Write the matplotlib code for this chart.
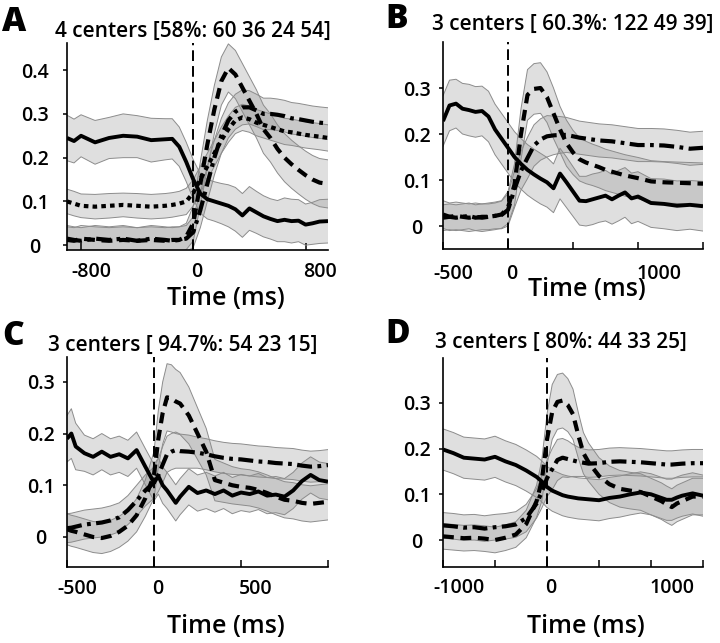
import matplotlib
matplotlib.use("Agg")
import matplotlib.pyplot as plt
import matplotlib.transforms as mtransforms
import numpy as np

plt.rcParams['font.family'] = ['Open Sans', 'DejaVu Sans']

# ---------------- panel A ----------------
tA = [-900, -850, -800, -700, -600, -500, -400, -300, -200, -150, -100, -50, 0, 50, 100, 150,
      200, 250, 300, 350, 400, 450, 500, 550, 600, 650, 700, 750, 800, 850, 900, 960]
a_solid = [0.245, 0.238, 0.25, 0.235, 0.245, 0.25, 0.248, 0.24, 0.242, 0.243, 0.225, 0.19, 0.15, 0.118,
           0.105, 0.1, 0.095, 0.09, 0.082, 0.068, 0.084, 0.075, 0.066, 0.06, 0.055, 0.058, 0.055,
           0.056, 0.047, 0.05, 0.054, 0.055]
a_solid_sd = [0.052, 0.05, 0.048, 0.05, 0.047, 0.05, 0.048, 0.05, 0.047, 0.046, 0.045, 0.045, 0.045,
              0.045, 0.045, 0.045, 0.046, 0.048, 0.05, 0.05, 0.05, 0.048, 0.047, 0.046, 0.047, 0.05,
              0.05, 0.048, 0.047, 0.048, 0.05, 0.05]
a_dash = [0.012, 0.01, 0.015, 0.012, 0.01, 0.012, 0.01, 0.012, 0.01, 0.012, 0.012, 0.02, 0.05, 0.14,
          0.23, 0.31, 0.375, 0.405, 0.39, 0.36, 0.33, 0.3, 0.265, 0.245, 0.22, 0.2, 0.185, 0.172,
          0.16, 0.15, 0.143, 0.14]
a_dash_sd = [0.03, 0.03, 0.03, 0.03, 0.03, 0.03, 0.03, 0.03, 0.03, 0.03, 0.03, 0.03, 0.04, 0.05,
             0.055, 0.055, 0.055, 0.055, 0.055, 0.055, 0.055, 0.055, 0.055, 0.055, 0.055, 0.055,
             0.055, 0.055, 0.055, 0.055, 0.055, 0.055]
a_dot = [0.1, 0.095, 0.09, 0.088, 0.09, 0.092, 0.09, 0.088, 0.09, 0.092, 0.095, 0.1, 0.12, 0.15,
         0.18, 0.21, 0.24, 0.265, 0.285, 0.292, 0.288, 0.28, 0.275, 0.27, 0.265, 0.26, 0.258,
         0.255, 0.252, 0.25, 0.248, 0.245]
a_dot_sd = [0.028, 0.028, 0.027, 0.028, 0.028, 0.027, 0.028, 0.028, 0.028, 0.028, 0.028, 0.03,
            0.03, 0.03, 0.03, 0.03, 0.03, 0.03, 0.03, 0.03, 0.03, 0.03, 0.03, 0.03, 0.03, 0.03,
            0.03, 0.03, 0.03, 0.03, 0.03, 0.03]
a_dashdot = [0.015, 0.012, 0.01, 0.015, 0.012, 0.015, 0.01, 0.015, 0.012, 0.01, 0.012, 0.015, 0.03,
             0.08, 0.14, 0.2, 0.25, 0.285, 0.305, 0.315, 0.315, 0.308, 0.3, 0.3, 0.298, 0.295,
             0.29, 0.288, 0.285, 0.282, 0.28, 0.278]
a_dashdot_sd = [0.03, 0.03, 0.03, 0.03, 0.03, 0.03, 0.03, 0.03, 0.03, 0.03, 0.03, 0.03, 0.035,
                0.04, 0.04, 0.04, 0.04, 0.04, 0.04, 0.04, 0.038, 0.037, 0.036, 0.036, 0.036,
                0.036, 0.036, 0.036, 0.036, 0.036, 0.036, 0.036]

# ---------------- panel B ----------------
tB = [-500, -450, -400, -350, -300, -250, -200, -150, -100, -50, 0, 50, 100, 150, 200, 250, 300,
      350, 400, 450, 500, 550, 600, 650, 700, 750, 800, 850, 900, 950, 1000, 1100, 1200, 1300,
      1400, 1500]
b_solid = [0.228, 0.262, 0.266, 0.255, 0.252, 0.248, 0.25, 0.238, 0.21, 0.19, 0.17, 0.15, 0.135,
           0.122, 0.112, 0.103, 0.095, 0.082, 0.114, 0.095, 0.075, 0.055, 0.054, 0.058, 0.062,
           0.066, 0.058, 0.066, 0.073, 0.06, 0.064, 0.05, 0.048, 0.044, 0.046, 0.043]
b_solid_sd = [0.055, 0.055, 0.053, 0.055, 0.056, 0.055, 0.054, 0.055, 0.055, 0.055, 0.055, 0.055,
              0.055, 0.055, 0.055, 0.055, 0.054, 0.053, 0.055, 0.055, 0.054, 0.053, 0.054, 0.055,
              0.054, 0.055, 0.054, 0.055, 0.054, 0.055, 0.054, 0.053, 0.054, 0.054, 0.053, 0.054]
b_dash = [0.025, 0.02, 0.022, 0.02, 0.018, 0.02, 0.018, 0.02, 0.022, 0.025, 0.04, 0.09, 0.2, 0.285,
          0.298, 0.3, 0.28, 0.245, 0.21, 0.18, 0.16, 0.145, 0.138, 0.133, 0.128, 0.122, 0.118,
          0.114, 0.11, 0.107, 0.104, 0.097, 0.095, 0.094, 0.093, 0.092]
b_dash_sd = [0.03, 0.03, 0.03, 0.03, 0.03, 0.03, 0.03, 0.03, 0.03, 0.03, 0.035, 0.045, 0.055,
             0.055, 0.055, 0.055, 0.055, 0.055, 0.05, 0.05, 0.048, 0.047, 0.046, 0.045, 0.045,
             0.045, 0.045, 0.045, 0.045, 0.045, 0.045, 0.045, 0.045, 0.045, 0.045, 0.045]
b_dashdot = [0.018, 0.02, 0.018, 0.02, 0.022, 0.018, 0.02, 0.02, 0.022, 0.024, 0.035, 0.08, 0.12,
             0.148, 0.175, 0.188, 0.195, 0.197, 0.198, 0.198, 0.195, 0.192, 0.19, 0.188, 0.186,
             0.185, 0.184, 0.182, 0.18, 0.178, 0.176, 0.176, 0.175, 0.172, 0.168, 0.17]
b_dashdot_sd = [0.028, 0.028, 0.028, 0.028, 0.028, 0.028, 0.028, 0.028, 0.028, 0.03, 0.035, 0.04,
                0.042, 0.045, 0.045, 0.045, 0.045, 0.042, 0.04, 0.038, 0.037, 0.036, 0.036,
                0.036, 0.036, 0.036, 0.036, 0.036, 0.036, 0.036, 0.036, 0.036, 0.036, 0.036,
                0.036, 0.036]

# ---------------- panel C ----------------
tC = [-500, -475, -450, -400, -350, -300, -250, -200, -150, -100, -50, 0, 25, 50, 75, 100, 125,
      150, 200, 250, 300, 350, 400, 450, 500, 550, 600, 650, 700, 750, 800, 850, 900, 950, 1000]
c_solid = [0.19, 0.2, 0.175, 0.162, 0.155, 0.165, 0.155, 0.16, 0.152, 0.168, 0.136, 0.105, 0.118,
           0.1, 0.09, 0.078, 0.066, 0.078, 0.097, 0.085, 0.09, 0.083, 0.09, 0.08, 0.086, 0.083,
           0.088, 0.08, 0.082, 0.078, 0.09, 0.108, 0.12, 0.11, 0.107]
c_solid_sd = [0.045, 0.048, 0.045, 0.035, 0.035, 0.035, 0.035, 0.035, 0.035, 0.035, 0.035, 0.035,
              0.035, 0.035, 0.035, 0.035, 0.035, 0.035, 0.035, 0.035, 0.035, 0.035, 0.035, 0.035,
              0.035, 0.035, 0.035, 0.035, 0.035, 0.035, 0.035, 0.035, 0.035, 0.035, 0.035]
c_dash = [0.015, 0.012, 0.01, 0.005, 0.0, -0.002, 0.002, 0.01, 0.022, 0.042, 0.075, 0.12, 0.19,
          0.24, 0.27, 0.268, 0.262, 0.258, 0.235, 0.2, 0.165, 0.11, 0.105, 0.1, 0.097, 0.095,
          0.091, 0.085, 0.078, 0.072, 0.07, 0.066, 0.064, 0.066, 0.068]
c_dash_sd = [0.03, 0.03, 0.03, 0.03, 0.03, 0.03, 0.03, 0.03, 0.03, 0.032, 0.035, 0.045, 0.055,
             0.06, 0.065, 0.065, 0.062, 0.06, 0.055, 0.05, 0.045, 0.04, 0.038, 0.036, 0.035,
             0.035, 0.035, 0.035, 0.035, 0.035, 0.035, 0.035, 0.035, 0.035, 0.035]
c_dashdot = [0.017, 0.018, 0.02, 0.024, 0.026, 0.028, 0.032, 0.038, 0.052, 0.07, 0.09, 0.105, 0.12,
             0.14, 0.16, 0.165, 0.168, 0.166, 0.165, 0.163, 0.16, 0.156, 0.153, 0.151, 0.15,
             0.148, 0.146, 0.145, 0.143, 0.142, 0.141, 0.138, 0.136, 0.137, 0.139]
c_dashdot_sd = [0.028, 0.028, 0.028, 0.028, 0.028, 0.028, 0.028, 0.028, 0.028, 0.03, 0.03, 0.03,
                0.032, 0.035, 0.035, 0.035, 0.035, 0.033, 0.032, 0.03, 0.03, 0.03, 0.03, 0.03,
                0.03, 0.03, 0.03, 0.03, 0.03, 0.03, 0.03, 0.03, 0.03, 0.03, 0.03]

# ---------------- panel D ----------------
tD = [-1000, -900, -800, -700, -600, -500, -400, -300, -200, -100, -50, 0, 50, 100, 150, 200, 250,
      300, 350, 400, 500, 600, 700, 800, 900, 1000, 1100, 1150, 1200, 1250, 1300, 1400, 1500]
d_solid = [0.198, 0.19, 0.18, 0.178, 0.176, 0.182, 0.172, 0.164, 0.152, 0.138, 0.128, 0.116,
           0.108, 0.103, 0.098, 0.095, 0.093, 0.091, 0.09, 0.089, 0.087, 0.092, 0.095, 0.1, 0.104,
           0.1, 0.092, 0.088, 0.088, 0.093, 0.097, 0.102, 0.097]
d_solid_sd = [0.045, 0.045, 0.045, 0.045, 0.045, 0.045, 0.045, 0.045, 0.045, 0.045, 0.045, 0.045,
              0.045, 0.045, 0.045, 0.045, 0.045, 0.045, 0.045, 0.045, 0.045, 0.045, 0.045, 0.045,
              0.045, 0.045, 0.045, 0.045, 0.045, 0.045, 0.045, 0.045, 0.045]
d_dash = [0.008, 0.006, 0.004, 0.005, 0.003, 0.0, 0.005, 0.012, 0.035, 0.085, 0.13, 0.22, 0.28,
          0.302, 0.305, 0.295, 0.275, 0.23, 0.19, 0.17, 0.14, 0.122, 0.112, 0.108, 0.105, 0.095,
          0.085, 0.078, 0.072, 0.08, 0.085, 0.095, 0.095]
d_dash_sd = [0.028, 0.028, 0.028, 0.028, 0.028, 0.028, 0.028, 0.028, 0.03, 0.035, 0.045, 0.055,
             0.06, 0.06, 0.06, 0.058, 0.055, 0.05, 0.045, 0.042, 0.04, 0.04, 0.04, 0.04, 0.04, 0.04,
             0.04, 0.04, 0.04, 0.04, 0.04, 0.04, 0.04]
d_dashdot = [0.032, 0.03, 0.027, 0.028, 0.025, 0.028, 0.03, 0.034, 0.048, 0.08, 0.105, 0.135,
             0.155, 0.175, 0.18, 0.177, 0.174, 0.171, 0.169, 0.167, 0.168, 0.171, 0.172, 0.171,
             0.17, 0.168, 0.166, 0.165, 0.165, 0.166, 0.167, 0.168, 0.168]
d_dashdot_sd = [0.028, 0.028, 0.028, 0.028, 0.028, 0.028, 0.028, 0.028, 0.03, 0.032, 0.035, 0.04,
                0.045, 0.045, 0.042, 0.04, 0.035, 0.032, 0.03, 0.03, 0.03, 0.03, 0.03, 0.03,
                0.03, 0.03, 0.03, 0.03, 0.03, 0.03, 0.03, 0.03, 0.03]

titles = ["4 centers [58%: 60 36 24 54]", "3 centers [ 60.3%: 122 49 39]",
          "3 centers [ 94.7%: 54 23 15]", "3 centers [ 80%: 44 33 25]"]
letters = ["A", "B", "C", "D"]

W, H = 720, 643
fig = plt.figure(figsize=(7.2, 6.43), dpi=100)


def rect(l, t, r, b):
    return [l / W, 1 - b / H, (r - l) / W, (b - t) / H]


def fx(px):
    return px / W


def fy(py):
    return 1 - py / H


STYLES = {
    "solid": dict(linestyle="-", lw=2.8),
    "dash": dict(linestyle=(0, (2.6, 1.6)), lw=3.0),
    "dot": dict(linestyle=(0, (1.1, 1.0)), lw=3.0),
    "dashdot": dict(linestyle=(0, (3.6, 1.3, 0.9, 1.3)), lw=3.0),
}

panels = [
    dict(rect=rect(67, 43, 328, 250), t=tA, xlim=(-900, 960), ylim=(-0.011, 0.462),
         series=[("solid", a_solid, a_solid_sd), ("dot", a_dot, a_dot_sd),
                 ("dashdot", a_dashdot, a_dashdot_sd), ("dash", a_dash, a_dash_sd)],
         xticks=[-800, 0, 800], xlabels=["-800", "0", "800"],
         yticks=[0, 0.1, 0.2, 0.3, 0.4], xpad=8.5, ypad=20,
         letter=(2, 31), title=(55, 37), xlab=(226, 305)),
    dict(rect=rect(443, 42, 703, 249), t=tB, xlim=(-500, 1500), ylim=(-0.05, 0.4),
         series=[("solid", b_solid, b_solid_sd), ("dashdot", b_dashdot, b_dashdot_sd),
                 ("dash", b_dash, b_dash_sd)],
         xticks=[-500, 0, 500, 1000, 1500], xlabels=["-500", "0", "", "1000", ""],
         yticks=[0, 0.1, 0.2, 0.3], xpad=11, ypad=16,
         letter=(385, 28), title=(432, 30), xlab=(587, 296)),
    dict(rect=rect(67, 357, 328, 567), t=tC, xlim=(-500, 1000), ylim=(-0.058, 0.348),
         series=[("solid", c_solid, c_solid_sd), ("dashdot", c_dashdot, c_dashdot_sd),
                 ("dash", c_dash, c_dash_sd)],
         xticks=[-500, 0, 500, 1000], xlabels=["-500", "0", "500", ""],
         yticks=[0, 0.1, 0.2, 0.3], xpad=9, ypad=16,
         letter=(2, 345), title=(48, 351), xlab=(226, 633)),
    dict(rect=rect(443, 358, 703, 567), t=tD, xlim=(-1000, 1500), ylim=(-0.059, 0.398),
         series=[("solid", d_solid, d_solid_sd), ("dashdot", d_dashdot, d_dashdot_sd),
                 ("dash", d_dash, d_dash_sd)],
         xticks=[-1000, -500, 0, 500, 1000, 1500], xlabels=["-1000", "", "0", "", "1000", ""],
         yticks=[0, 0.1, 0.2, 0.3], xpad=8, ypad=16,
         letter=(385, 343), title=(435, 348), xlab=(586, 633)),
]

for i, p in enumerate(panels):
    ax = fig.add_axes(p["rect"])
    t = np.array(p["t"], dtype=float)
    for name, m, sd in p["series"]:
        m = np.array(m)
        sd = np.array(sd)
        ax.fill_between(t, m - sd, m + sd, facecolor="#8a8a8a", alpha=0.27, lw=0, zorder=1)
        ax.plot(t, m - sd, color="#8c8c8c", lw=0.7, zorder=2)
        ax.plot(t, m + sd, color="#8c8c8c", lw=0.7, zorder=2)
    for name, m, sd in p["series"]:
        ax.plot(t, m, color="black", zorder=4, solid_capstyle="butt",
                dash_capstyle="butt", **STYLES[name])
    ax.axvline(0, color="black", lw=1.4, linestyle=(0, (5.5, 2.6)), zorder=5)

    ax.set_xlim(*p["xlim"])
    ax.set_ylim(*p["ylim"])
    for s in ("top", "right"):
        ax.spines[s].set_visible(False)
    for s in ("left", "bottom"):
        ax.spines[s].set_linewidth(1.2)
    ax.set_yticks(p["yticks"])
    ax.set_yticklabels(["0" if v == 0 else f"{v:g}" for v in p["yticks"]])
    ax.set_xticks(p["xticks"])
    ax.set_xticklabels(p["xlabels"])
    ax.tick_params(axis="x", direction="in", length=5, width=1.1, pad=p["xpad"], labelsize=14)
    ax.tick_params(axis="y", direction="out", length=3, width=1.1, pad=p["ypad"], labelsize=14)
    for lab in ax.get_yticklabels():
        lab.set_ha("center")
        lab.set_fontweight("semibold")
    for lab in ax.get_xticklabels():
        lab.set_ha("left")
        lab.set_fontweight("semibold")
        dx = -10 if lab.get_text().startswith("-") else -2
        off = mtransforms.ScaledTranslation(dx / 100, 0, fig.dpi_scale_trans)
        lab.set_transform(lab.get_transform() + off)

    ax.set_xlabel("Time (ms)", fontsize=18, fontweight="semibold")
    ax.xaxis.label.set_va("baseline")
    ax.xaxis.set_label_coords(fx(p["xlab"][0]), fy(p["xlab"][1]), transform=fig.transFigure)

    fig.text(fx(p["letter"][0]), fy(p["letter"][1]), letters[i], fontsize=24,
             fontweight="heavy", va="baseline", ha="left")
    fig.text(fx(p["title"][0]), fy(p["title"][1]), titles[i], fontsize=15,
             fontweight="semibold", va="baseline", ha="left")

fig.savefig("out.png", dpi=100)
